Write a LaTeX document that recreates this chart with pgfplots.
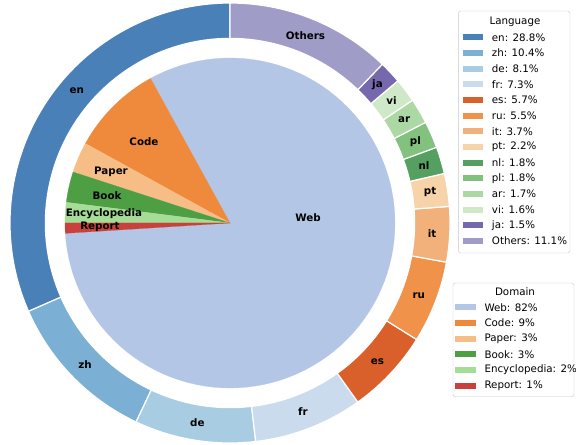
\documentclass[border=0pt]{standalone}
\usepackage{fontspec}
\setmainfont{DejaVu Sans}
\usepackage{pgfplots}
\pgfplotsset{compat=1.18}

\definecolor{cEn}{HTML}{4A80B8}
\definecolor{cZh}{HTML}{7BAFD4}
\definecolor{cDe}{HTML}{A8CCE2}
\definecolor{cFr}{HTML}{C9DBED}
\definecolor{cEs}{HTML}{D95F2B}
\definecolor{cRu}{HTML}{F0924A}
\definecolor{cIt}{HTML}{F2B07A}
\definecolor{cPt}{HTML}{F7D3AA}
\definecolor{cNl}{HTML}{55A060}
\definecolor{cPl}{HTML}{82C27E}
\definecolor{cAr}{HTML}{ACD9A3}
\definecolor{cVi}{HTML}{CFE8C8}
\definecolor{cJa}{HTML}{7568AD}
\definecolor{cOth}{HTML}{A09CC8}

\definecolor{cWeb}{HTML}{B3C6E6}
\definecolor{cCode}{HTML}{EF8A3C}
\definecolor{cPaper}{HTML}{F6BD86}
\definecolor{cBook}{HTML}{4E9E44}
\definecolor{cEnc}{HTML}{A5DC96}
\definecolor{cRep}{HTML}{C9413C}

% name / share (%) / colour / label angle shift
\newcommand\langdata{en/28.8/cEn/-7.6, zh/10.4/cZh/0, de/8.1/cDe/0, fr/7.3/cFr/0, es/5.7/cEs/0, ru/5.5/cRu/0, it/3.7/cIt/0, pt/2.2/cPt/0, nl/1.8/cNl/0, pl/1.8/cPl/0, ar/1.7/cAr/0, vi/1.6/cVi/0, ja/1.5/cJa/0, Others/11.1/cOth/0}
% name / share (%) / colour
\newcommand\domdata{Web/82/cWeb, Code/9/cCode, Paper/3/cPaper, Book/3/cBook, Encyclopedia/2/cEnc, Report/1/cRep}

\newcommand\ff{\fontsize{10.3bp}{12.4bp}\selectfont}

\begin{document}
\begin{tikzpicture}
\path[use as bounding box] (-230bp,-222bp) rectangle (346bp,223bp);

% totals
\gdef\langtotal{0}
\foreach \n/\v/\c/\s in \langdata {\pgfmathsetmacro\t{\langtotal+\v}\xdef\langtotal{\t}}
\gdef\domtotal{0}
\foreach \n/\v/\c in \domdata {\pgfmathsetmacro\t{\domtotal+\v}\xdef\domtotal{\t}}

\begin{axis}[hide axis, x=220bp, y=220bp, xmin=-1, xmax=1, ymin=-1, ymax=1,
  enlargelimits=false, clip=false, anchor=center, at={(0,0)}]
% outer ring: languages, counter-clockwise from 90 degrees
\gdef\cum{0}
\foreach \n/\v/\c/\s in \langdata {
  \pgfmathsetmacro\a{90+\cum/\langtotal*360}
  \pgfmathsetmacro\b{90+(\cum+\v)/\langtotal*360}
  \edef\tmp{\noexpand\addplot[fill=\c, draw=white, line width=1.2bp, domain=\a:\b, samples=100] ({cos(x)},{sin(x)}) -- (axis cs:0,0) -- cycle;}
  \tmp
  \pgfmathsetmacro\t{\cum+\v}
  \xdef\cum{\t}
}
% gap between ring and inner pie
\addplot[fill=white, draw=none, domain=0:360, samples=181] ({0.842*cos(x)},{0.842*sin(x)}) -- cycle;
% inner pie: domains, counter-clockwise from 183.6 degrees
\gdef\cum{0}
\foreach \n/\v/\c in \domdata {
  \pgfmathsetmacro\a{183.6+\cum/\domtotal*360}
  \pgfmathsetmacro\b{183.6+(\cum+\v)/\domtotal*360}
  \edef\tmp{\noexpand\addplot[fill=\c, draw=\c, line width=0.2bp, domain=\a:\b, samples=100] ({0.75*cos(x)},{0.75*sin(x)}) -- (axis cs:0,0) -- cycle;}
  \tmp
  \pgfmathsetmacro\t{\cum+\v}
  \xdef\cum{\t}
}
% ring labels
\gdef\cum{0}
\foreach \n/\v/\c/\s in \langdata {
  \pgfmathsetmacro\m{90+(\cum+\v/2)/\langtotal*360+\s}
  \edef\tmp{\noexpand\node[font=\noexpand\ff\noexpand\bfseries] at (axis cs:{0.92*cos(\m)},{0.92*sin(\m)}) {\n};}
  \tmp
  \pgfmathsetmacro\t{\cum+\v}
  \xdef\cum{\t}
}
% pie labels
\node[font=\ff\bfseries] at (axis cs:0.355,0.023) {Web};
\node[font=\ff\bfseries] at (axis cs:-0.391,0.368) {Code};
\node[font=\ff\bfseries] at (axis cs:-0.541,0.232) {Paper};
\node[font=\ff\bfseries] at (axis cs:-0.559,0.123) {Book};
\node[font=\ff\bfseries] at (axis cs:-0.573,0.041) {Encyclopedia};
\node[font=\ff\bfseries] at (axis cs:-0.591,-0.018) {Report};
\end{axis}

% Language legend
\draw[black!22, rounded corners=2.5bp, fill=white] (228.3bp,212bp) rectangle (340bp,-30bp);
\node[font=\ff] at (285bp,201bp) {Language};
\foreach \n/\v/\c/\s [count=\i from 0] in \langdata {
  \fill[\c] (233.3bp,{185.7bp-15.67bp*\i-3bp}) rectangle ++(20bp,6bp);
  \node[font=\ff, anchor=west, inner sep=0pt] at (261.7bp,{185.7bp-15.67bp*\i}) {\n: \v\%};
}

% Domain legend
\draw[black!22, rounded corners=2.5bp, fill=white] (223bp,-60bp) rectangle (344bp,-173.7bp);
\node[font=\ff] at (285bp,-69bp) {Domain};
\foreach \n/\v/\c [count=\i from 0] in \domdata {
  \fill[\c] (225bp,{-84.3bp-15.7bp*\i-3bp}) rectangle ++(20.7bp,6bp);
  \node[font=\ff, anchor=west, inner sep=0pt] at (254.3bp,{-84.3bp-15.7bp*\i}) {\n: \v\%};
}
\end{tikzpicture}
\end{document}
